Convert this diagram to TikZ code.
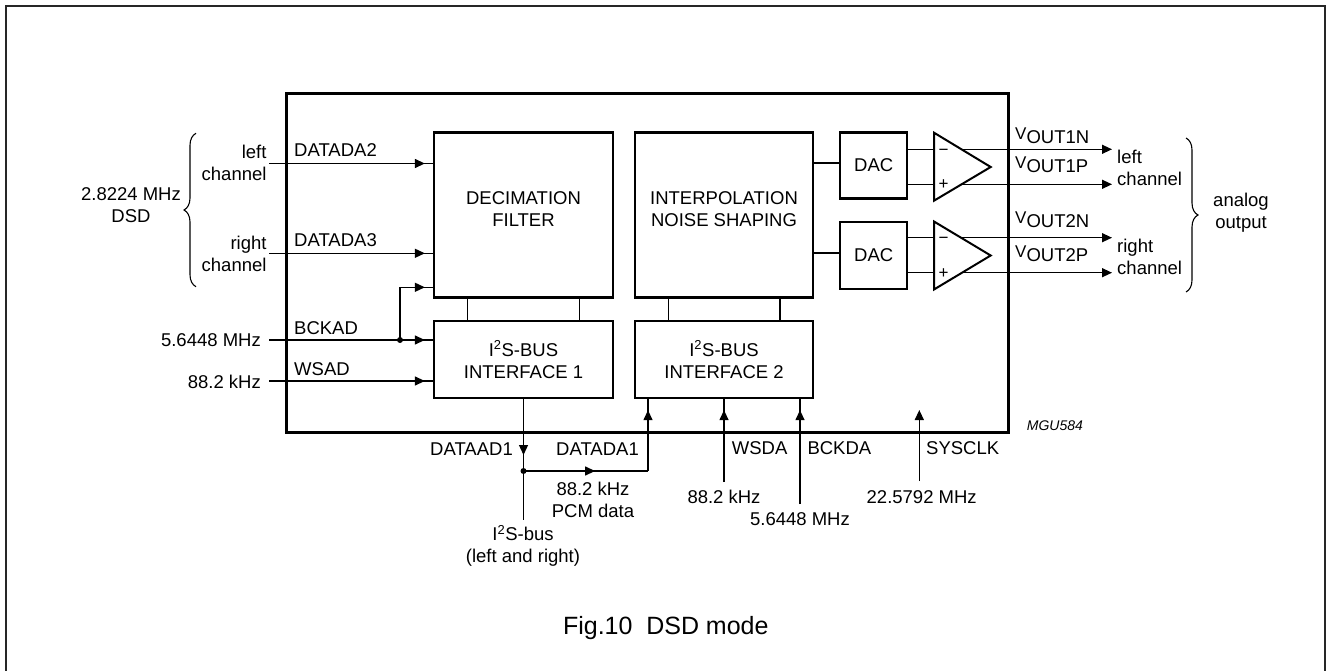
\documentclass[tikz,border=0pt]{standalone}
\usepackage{fontspec}
\setmainfont{Liberation Sans}
\usetikzlibrary{arrows.meta,decorations.markings,decorations.pathreplacing}
\newcommand{\fs}{\fontsize{18.5}{22}\selectfont}
\newcommand{\vlab}[1]{{\fontsize{17}{17}\selectfont\raisebox{4pt}{V}}{\fontsize{18.5}{18.5}\selectfont #1}}
\begin{document}
\begin{tikzpicture}[x=1pt,y=-1pt,
  >={Triangle[length=10pt,width=9pt]},
  blk/.style={draw, line width=2.3pt, inner sep=0pt, font=\fs, align=center},
  sig/.style={line width=1.3pt},
  lbl/.style={inner sep=0pt, font=\fs, align=center},
  tipat/.style={postaction={decorate}, decoration={markings, mark=at position #1 with {\arrow{>}}}},
  bracestyle/.style={line width=1.1pt, decorate, decoration={brace, amplitude=12pt}},
  sign/.style={inner sep=0pt, font=\fontsize{17}{17}\selectfont}
]
\useasboundingbox (0,0) rectangle (1327,671);
% outer frame
\draw[line width=2pt, black!85] (5.5,680) -- (5.5,6.5) -- (1325,6.5) -- (1325,680);

% chip
\node[draw, line width=3pt, minimum width=722pt, minimum height=338pt, inner sep=0pt] (chip) at (647,263) {};

% blocks
\node[blk, minimum width=179pt, minimum height=165pt] (dec) at (523.5,215) {};
\node[lbl] (dectxt) at (523.5,209) {DECIMATION\\FILTER};
\node[blk, minimum width=179pt, minimum height=77pt] (ifa) at (523.5,359.5) {I\textsuperscript{2}S-BUS\\INTERFACE 1};
\node[blk, minimum width=178pt, minimum height=165pt] (interp) at (724,215) {};
\node[lbl] (interptxt) at (724,209) {INTERPOLATION\\NOISE SHAPING};
\node[blk, minimum width=178pt, minimum height=77pt] (ifb) at (724,359.5) {I\textsuperscript{2}S-BUS\\INTERFACE 2};
\node[blk, minimum width=67pt, minimum height=66pt] (dac1) at (873.7,165.5) {DAC};
\node[blk, minimum width=67pt, minimum height=67pt] (dac2) at (873.7,255.5) {DAC};

% op amps
\draw[line width=2pt, line join=miter] (934,132.7) -- (990.7,167) -- (934,200.7) -- cycle;
\draw[line width=2pt, line join=miter] (934,221.5) -- (990.7,255.5) -- (934,289.5) -- cycle;
\node[sign] (m1) at (943.5,152) {−};
\node[sign] (p1) at (943.5,185) {+};
\node[sign] (m2) at (943.5,240) {−};
\node[sign] (p2) at (943.5,273.5) {+};

% block interconnections
\draw[sig] (dec.south -| 467.7,0) -- (ifa.north -| 467.7,0);
\draw[sig] (dec.south -| 579.7,0) -- (ifa.north -| 579.7,0);
\draw[sig] (interp.south -| 668.3,0) -- (ifb.north -| 668.3,0);
\draw[sig] (interp.south -| 780,0) -- (ifb.north -| 780,0);
\coordinate (i1) at (813,163);
\coordinate (i2) at (813,253);
\draw[sig] (interp.east |- i1) -- (dac1.west |- i1);
\draw[sig] (interp.east |- i2) -- (dac2.west |- i2);

% dac to opamp
\coordinate (a1m) at (934,149.3);
\coordinate (a1p) at (934,184.3);
\coordinate (a2m) at (934,237.7);
\coordinate (a2p) at (934,272.7);
\draw[sig] (dac1.east |- a1m) -- (a1m);
\draw[sig] (dac1.east |- a1p) -- (a1p);
\draw[sig] (dac2.east |- a2m) -- (a2m);
\draw[sig] (dac2.east |- a2p) -- (a2p);

% outputs
\coordinate (o1n) at (961,149.3); \coordinate (e1n) at (1112,149.3);
\coordinate (o1p) at (961,184.3); \coordinate (e1p) at (1112,184.3);
\coordinate (o2n) at (961,237.7); \coordinate (e2n) at (1112,237.7);
\coordinate (o2p) at (961,272.7); \coordinate (e2p) at (1112,272.7);
\draw[sig,->] (o1n) -- (e1n);
\draw[sig,->] (o1p) -- (e1p);
\draw[sig,->] (o2n) -- (e2n);
\draw[sig,->] (o2p) -- (e2p);
\node[inner sep=0pt, anchor=base west] (v1n) at (1015,143.3) {\vlab{OUT1N}};
\node[inner sep=0pt, anchor=base west] (v1p) at (1015,172.7) {\vlab{OUT1P}};
\node[inner sep=0pt, anchor=base west] (v2n) at (1015,227.7) {\vlab{OUT2N}};
\node[inner sep=0pt, anchor=base west] (v2p) at (1015,261.7) {\vlab{OUT2P}};
\node[lbl, align=left, anchor=west] (lch) at (1117,168) {left\\channel};
\node[lbl, align=left, anchor=west] (rch) at (1117,257) {right\\channel};
\coordinate (br1) at (1186,138);
\coordinate (br2) at (1186,292);
\draw[bracestyle] (br1) -- (br2);
\node[lbl] (anout) at (1241,213) {analog\\output};

% left inputs
\coordinate (inL) at (269,163.5);
\coordinate (inR) at (269,253.3);
\coordinate (inB) at (269,340);
\coordinate (inW) at (269,381);
\coordinate (dotB) at (400,340);
\coordinate (c3) at (400,287.3);
\draw[sig, tipat=-8pt] (inL) -- (dec.west |- inL);
\draw[sig, tipat=-8pt] (inR) -- (dec.west |- inR);
\draw[sig, tipat=-8pt] (inB) -- (ifa.west |- inB);
\draw[sig, tipat=-8pt] (inW) -- (ifa.west |- inW);
\draw[sig, tipat=-8pt] (dotB) -- (c3) -- (dec.west |- c3);
\fill (dotB) circle (3pt);
\node[lbl, anchor=west] (ldd2) at (294,150) {DATADA2};
\node[lbl, anchor=west] (ldd3) at (294,240) {DATADA3};
\node[lbl, anchor=west] (lbck) at (294,327.7) {BCKAD};
\node[lbl, anchor=west] (lws) at (294,369) {WSAD};
\node[lbl, align=right, anchor=east] (lleft) at (266.7,163) {left\\channel};
\node[lbl, align=right, anchor=east] (lright) at (266.7,254) {right\\channel};
\node[lbl, anchor=east] (lf1) at (261,340) {5.6448 MHz};
\node[lbl, anchor=east] (lf2) at (261,381.7) {88.2 kHz};
\coordinate (bl1) at (196,286.7);
\coordinate (bl2) at (196,133.3);
\draw[bracestyle] (bl1) -- (bl2);
\node[lbl] (dsd) at (131,204.7) {2.8224 MHz\\DSD};

% bottom signals
\coordinate (dotD) at (523.5,471);
\coordinate (busE) at (523.5,520);
\coordinate (jD) at (648,471);
\draw[sig, tipat=-16pt] (ifa.south) -- (dotD);
\draw[sig] (dotD) -- (busE);
\draw[sig, tipat=0.575] (dotD) -- (jD);
\draw[sig, tipat=-11pt] (jD) -- (ifb.south -| jD);
\fill (dotD) circle (3pt);
\coordinate (wsdaS) at (724,482);
\coordinate (bckdaS) at (800,504);
\coordinate (sysS) at (919.3,481);
\coordinate (sysE) at (919.3,410);
\draw[sig, tipat=-11pt] (wsdaS) -- (ifb.south -| wsdaS);
\draw[sig, tipat=-11pt] (bckdaS) -- (ifb.south -| bckdaS);
\draw[sig, ->] (sysS) -- (sysE);

\node[lbl, anchor=east] (ldad1) at (513,449.3) {DATAAD1};
\node[lbl, anchor=west] (ldda1) at (556,449.3) {DATADA1};
\node[lbl] (lpcm) at (593,500) {88.2 kHz\\PCM data};
\node[lbl] (lbus) at (523,546) {I\textsuperscript{2}S-bus\\(left and right)};
\node[lbl, anchor=west] (lwsda) at (731.7,448.3) {WSDA};
\node[lbl, anchor=west] (lbckda) at (807.3,448.3) {BCKDA};
\node[lbl, anchor=west] (lsys) at (926,448.3) {SYSCLK};
\node[lbl] (fw) at (724,496.7) {88.2 kHz};
\node[lbl] (fb) at (800,519.3) {5.6448 MHz};
\node[lbl] (fs) at (921.7,496.7) {22.5792 MHz};
\node[inner sep=0pt, anchor=west, font=\fontsize{14}{16}\selectfont\itshape] (mgu) at (1026.7,426) {MGU584};

\node[inner sep=0pt, font=\fontsize{25}{30}\selectfont] (cap) at (665.8,628.3) {Fig.10\hspace{0.55em}DSD mode};
\end{tikzpicture}
\end{document}
